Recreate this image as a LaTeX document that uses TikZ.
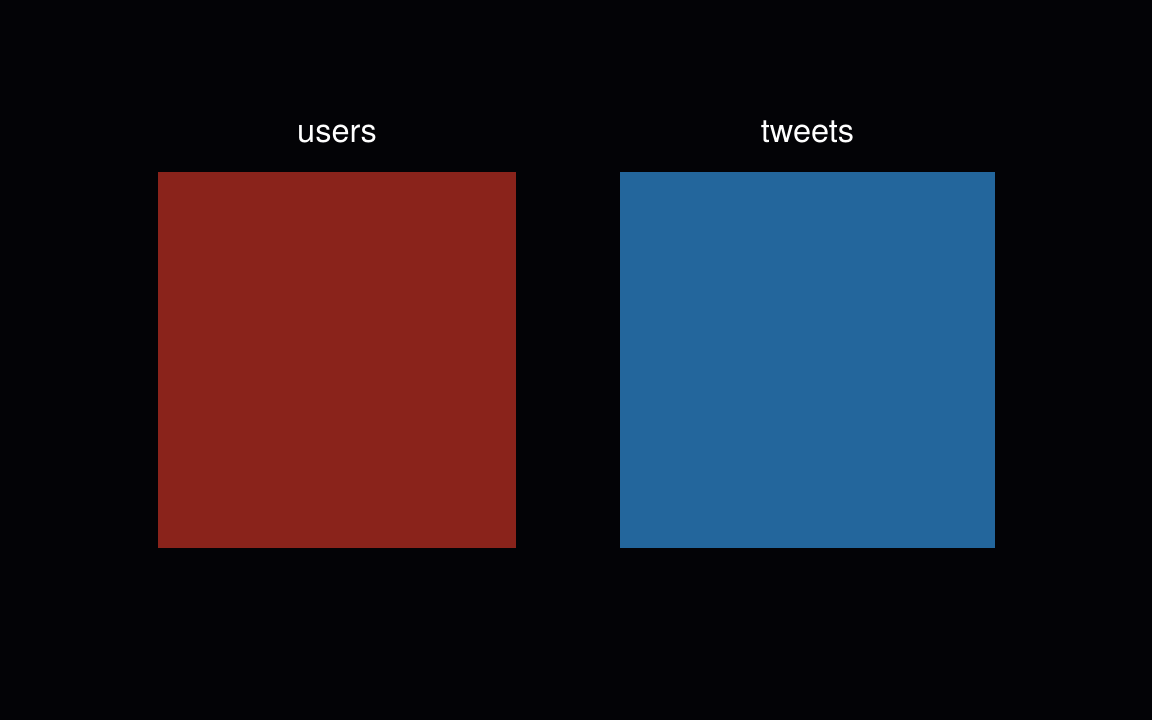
\documentclass[tikz,border=0pt]{standalone}
\usepackage{fontspec}
\setmainfont{TeX Gyre Heros}
\usetikzlibrary{positioning}
\definecolor{bgblack}{HTML}{030306}
\definecolor{tablered}{HTML}{8A231B}
\definecolor{tableblue}{HTML}{23669C}

\begin{document}
\begin{tikzpicture}[
    x=0.02cm, y=-0.02cm,
    table/.style={draw=none, minimum height=7.52cm, inner sep=0pt, outer sep=0pt},
    title/.style={text=white, font=\fontsize{18.5}{20}\selectfont, anchor=base, inner sep=0pt}
]
\fill[bgblack] (0,0) rectangle (1152,720);
\useasboundingbox (0,0) rectangle (1152,720);
\node[table, fill=tablered, minimum width=7.16cm] (users) at (337,360) {};
\node[table, fill=tableblue, minimum width=7.50cm] (tweets) at (807.5,360) {};
\node[title] (userslbl) at (337,142) {users};
\node[title] (tweetslbl) at (807.5,142) {tweets};
\end{tikzpicture}
\end{document}
